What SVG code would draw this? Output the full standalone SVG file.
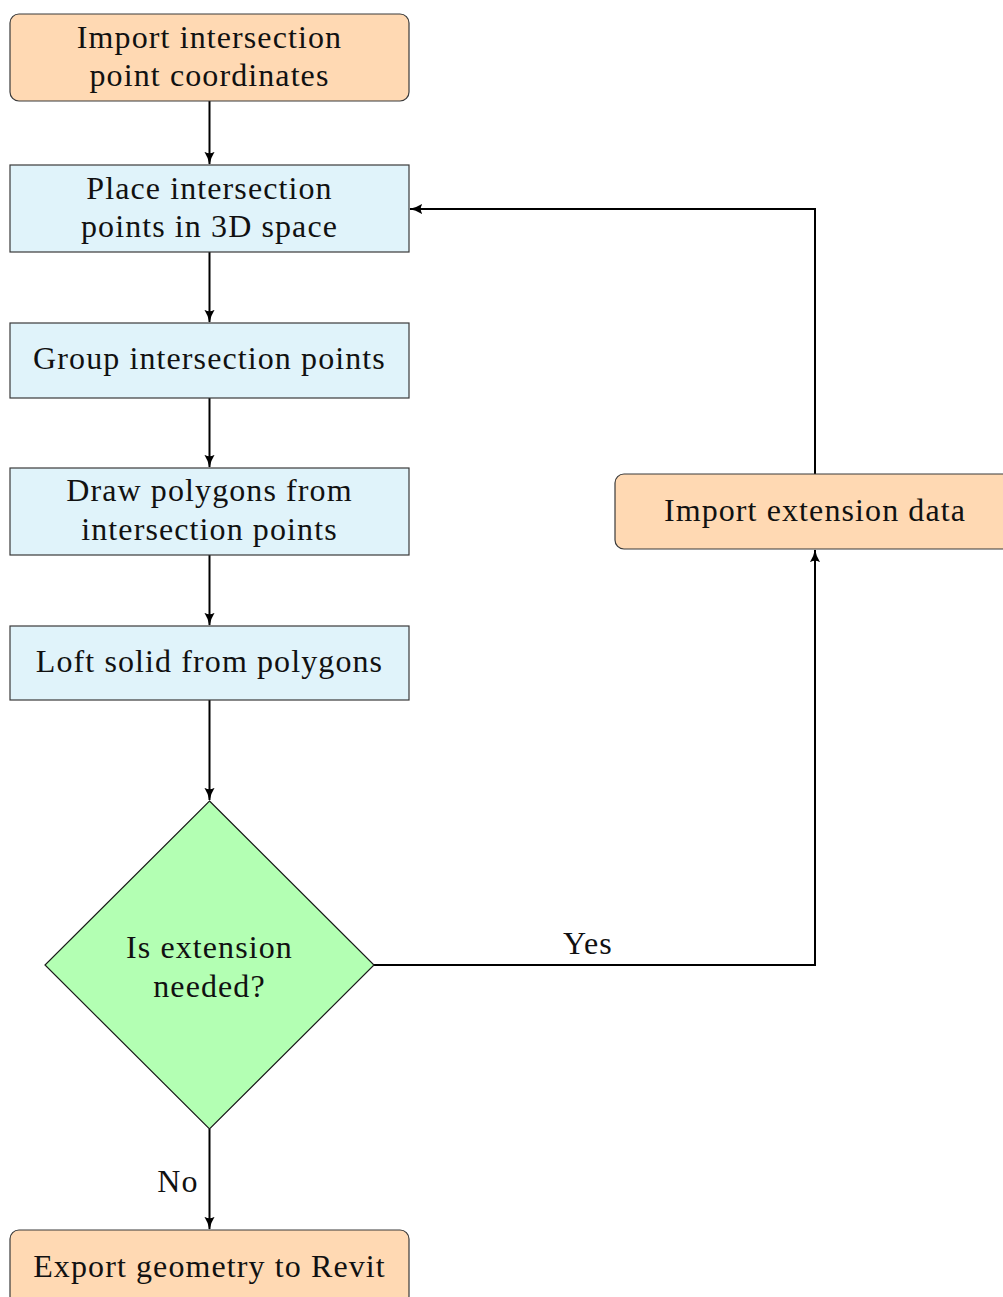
<svg xmlns="http://www.w3.org/2000/svg" width="1003" height="1297" viewBox="0 0 1003 1297">
  <style>
    .start { fill: #FFD9B3; stroke: #3a3a3a; stroke-width: 1.2; }
    .proc { fill: #E0F3FA; stroke: #3a3a3a; stroke-width: 1.2; }
    .dec { fill: #B3FFB3; stroke: #1a1a1a; stroke-width: 1.2; }
    .edge { fill: none; stroke: #000; stroke-width: 2; marker-end: url(#arrow); }
  </style>
  <defs>
    <marker id="arrow" viewBox="0 0 10 10" refX="9.5" refY="5" markerWidth="13" markerHeight="13" markerUnits="userSpaceOnUse" orient="auto">
      <path d="M0,1 Q5,4.2 10,5 Q5,5.8 0,9 Q2.5,5 0,1 Z" fill="#000"/>
    </marker>
  </defs>

  <g font-family="Liberation Serif, serif" font-size="32" letter-spacing="1.1" fill="#111" text-anchor="middle">
  <g id="connectors">
    <path class="edge" d="M209.5,101 V164"/>
    <path class="edge" d="M209.5,252 V322"/>
    <path class="edge" d="M209.5,398 V467"/>
    <path class="edge" d="M209.5,555 V625"/>
    <path class="edge" d="M209.5,700 V800"/>
    <path class="edge" d="M209.5,1129 V1229"/>
    <path class="edge" d="M374,965 H815 V550"/>
    <path class="edge" d="M815,474 V209 H410"/>
    <text x="588" y="954">Yes</text>
    <text x="178" y="1192">No</text>
  </g>

  <g id="import-points">
    <rect class="start" x="10" y="14" width="399" height="87" rx="9"/>
    <text x="209.5" y="48">Import intersection</text>
    <text x="209.5" y="86">point coordinates</text>
  </g>

  <g id="place-points">
    <rect class="proc" x="10" y="165" width="399" height="87"/>
    <text x="209.5" y="199">Place intersection</text>
    <text x="209.5" y="237">points in 3D space</text>
  </g>

  <g id="group-points">
    <rect class="proc" x="10" y="323" width="399" height="75"/>
    <text x="209.5" y="369">Group intersection points</text>
  </g>

  <g id="draw-polygons">
    <rect class="proc" x="10" y="468" width="399" height="87"/>
    <text x="209.5" y="501">Draw polygons from</text>
    <text x="209.5" y="540">intersection points</text>
  </g>

  <g id="loft-solid">
    <rect class="proc" x="10" y="626" width="399" height="74"/>
    <text x="209.5" y="672">Loft solid from polygons</text>
  </g>

  <g id="extension-check">
    <polygon class="dec" points="209.5,801 374,965 209.5,1129 45,965"/>
    <text x="209.5" y="958">Is extension</text>
    <text x="209.5" y="997">needed?</text>
  </g>

  <g id="import-extension">
    <rect class="start" x="615" y="474" width="400" height="75" rx="9"/>
    <text x="815" y="521">Import extension data</text>
  </g>

  <g id="export-revit">
    <rect class="start" x="10" y="1230" width="399" height="75" rx="9"/>
    <text x="209.5" y="1277">Export geometry to Revit</text>
  </g>
  </g>
</svg>
